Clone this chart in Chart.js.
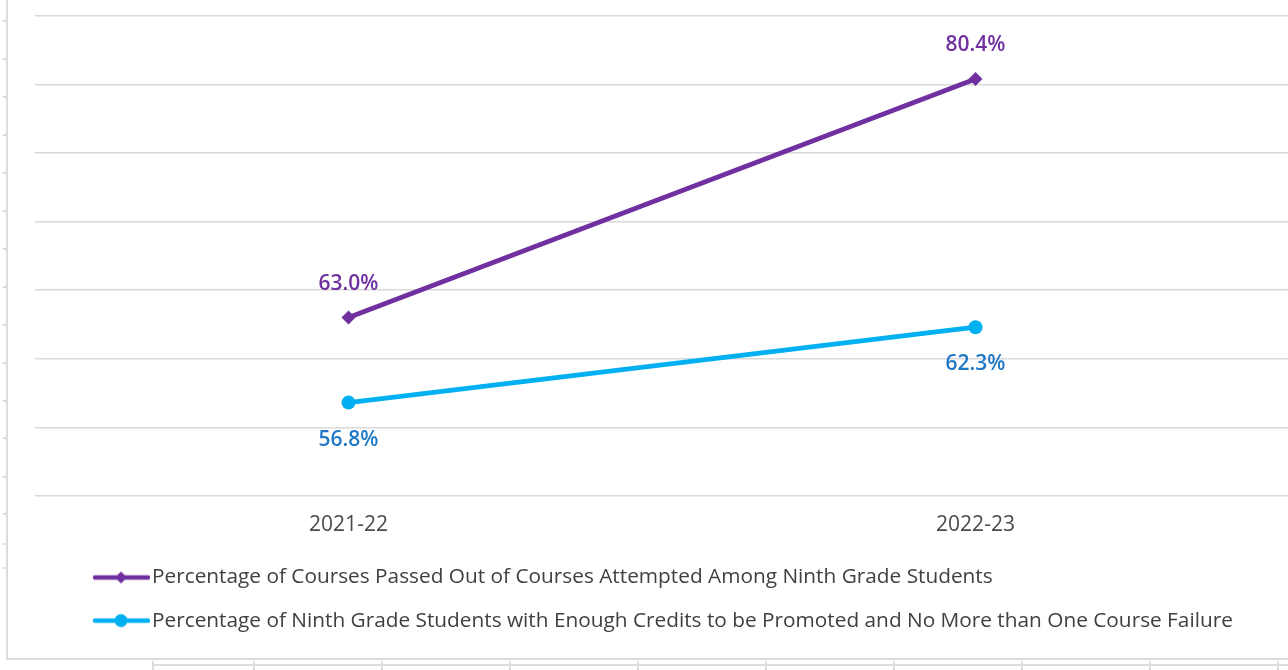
<!DOCTYPE html>
<html>
<head>
<meta charset="utf-8">
<script src="https://cdn.jsdelivr.net/npm/chart.js@4.4.1/dist/chart.umd.min.js"></script>
<style>
  html, body { margin: 0; padding: 0; background: #fff; width: 1288px; height: 670px; overflow: hidden; }
  #wrap { position: absolute; left: 0; top: 0; width: 1296px; height: 658px; }
  .ln { position: absolute; background: #dcdcdc; }
</style>
</head>
<body>
<div id="deco"></div>
<div id="wrap"><canvas id="chart" width="1296" height="658"></canvas></div>
<script>
// ---- data ----
const categories = ['2021-22', '2022-23'];
const seriesNames = [
  'Percentage of Courses Passed Out of Courses Attempted Among Ninth Grade Students',
  'Percentage of Ninth Grade Students with Enough Credits to be Promoted and No More than One Course Failure'
];
const coursesPassed = [63.0, 80.4];
const studentsOnTrack = [56.8, 62.3];
const yTicks = [50, 55, 60, 65, 70, 75, 80, 85];

// ---- spreadsheet frame decoration (outside the chart) ----
(function () {
  const d = document.getElementById('deco');
  const add = (l, t, w, h) => {
    const e = document.createElement('div');
    e.className = 'ln';
    e.style.cssText = `left:${l}px;top:${t}px;width:${w}px;height:${h}px;`;
    d.appendChild(e);
  };
  add(6, 0, 2, 660);      // chart frame left
  add(6, 658, 1290, 2);   // chart frame bottom
  add(152, 664, 1140, 2); // cell line
  [152, 253, 381, 509, 637, 765, 893, 1021, 1149, 1277].forEach(x => add(x, 661, 2, 10));
  [20, 58, 96, 134, 172, 210, 248, 286, 324, 362, 400, 437, 476, 513, 543, 567].forEach(y => add(3, y, 3, 2));
})();

function legendIcon(color, style) {
  const c = document.createElement('canvas');
  c.width = 101; c.height = 18;
  const g = c.getContext('2d');
  g.strokeStyle = color; g.lineWidth = 4.5; g.lineCap = 'round';
  g.beginPath(); g.moveTo(46, 9); g.lineTo(99, 9); g.stroke();
  g.fillStyle = color;
  g.beginPath();
  if (style === 'rectRot') {
    g.moveTo(72, 3); g.lineTo(78, 9); g.lineTo(72, 15); g.lineTo(66, 9); g.closePath();
  } else {
    g.arc(72, 9, 6.5, 0, Math.PI * 2);
  }
  g.fill();
  return c;
}

const dataLabels = {
  id: 'dataLabels',
  afterDatasetsDraw(chart) {
    const ctx = chart.ctx;
    chart.data.datasets.forEach((ds, i) => {
      const meta = chart.getDatasetMeta(i);
      ctx.save();
      ctx.font = '600 21px "Open Sans", sans-serif';
      ctx.fillStyle = ds.labelColor;
      ctx.textAlign = 'center';
      ctx.textBaseline = 'middle';
      meta.data.forEach((pt, j) => {
        ctx.fillText(ds.data[j].toFixed(1) + '%', pt.x, pt.y + ds.labelOffset);
      });
      ctx.restore();
    });
  }
};

new Chart(document.getElementById('chart'), {
  type: 'line',
  data: {
    labels: categories,
    datasets: [
      {
        label: seriesNames[0],
        data: coursesPassed,
        borderColor: '#7030A0',
        backgroundColor: '#7030A0',
        borderWidth: 4.8,
        pointStyle: 'rectRot',
        pointRadius: 7,
        pointBorderWidth: 0,
        pointBackgroundColor: '#7030A0',
        labelColor: '#7030A0',
        labelOffset: -34,
        iconStyle: 'rectRot'
      },
      {
        label: seriesNames[1],
        data: studentsOnTrack,
        borderColor: '#00B0F0',
        backgroundColor: '#00B0F0',
        borderWidth: 4.8,
        pointStyle: 'circle',
        pointRadius: 7,
        pointBorderWidth: 0,
        pointBackgroundColor: '#00B0F0',
        labelColor: '#1F77C5',
        labelOffset: 37,
        iconStyle: 'circle'
      }
    ]
  },
  options: {
    responsive: false,
    animation: false,
    layout: { padding: { top: 16, left: 35, right: 1, bottom: 17 } },
    scales: {
      x: {
        offset: true,
        grid: { display: false, drawTicks: false },
        border: { display: false },
        ticks: { color: '#4a4a4a', padding: 17, font: { family: '"Open Sans", sans-serif', size: 21 } },
        afterFit: (scale) => { scale.height = 49; }
      },
      y: {
        min: 50, max: 85,
        afterBuildTicks: (scale) => { scale.ticks = yTicks.map(v => ({ value: v })); },
        grid: { color: '#d9d9d9', lineWidth: 1.5, drawTicks: false },
        border: { display: false },
        ticks: { display: false }
      }
    },
    plugins: {
      tooltip: { enabled: false },
      legend: {
        position: 'bottom',
        align: 'start',
        labels: {
          usePointStyle: true,
          pointStyleWidth: 84.3,
          boxHeight: 20.7,
          padding: 22.3,
          color: '#404040',
          font: { family: '"Open Sans", sans-serif', size: 20.8 },
          generateLabels: (chart) => {
            const items = Chart.defaults.plugins.legend.labels.generateLabels(chart);
            return items.map((it, i) => {
              const ds = chart.data.datasets[i];
              it.pointStyle = legendIcon(ds.borderColor, ds.iconStyle);
              return it;
            });
          }
        }
      }
    }
  },
  plugins: [dataLabels]
});
</script>
</body>
</html>
